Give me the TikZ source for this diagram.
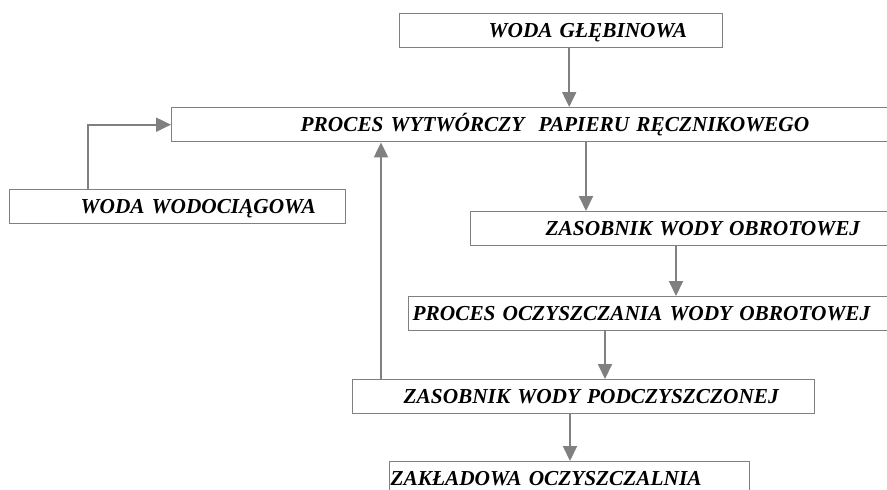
\documentclass[tikz,border=0pt]{standalone}
\usepackage{fontspec}
\setmainfont{Liberation Serif}
\usetikzlibrary{arrows.meta, positioning}
\definecolor{linegray}{RGB}{128, 128, 128}

\begin{document}
\begin{tikzpicture}[x=1pt, y=-1pt,
            box/.style={draw=linegray, line width=1.4pt, anchor=north west, inner xsep=0pt, align=left, minimum height=34pt, text height=14pt, text depth=0pt, font=\fontsize{21.3}{25}\selectfont\bfseries\itshape},
            arr/.style={draw=linegray, line width=2pt, -{Triangle[width=14pt, length=15pt]}}
        ]
            \clip (0,0) rectangle (887,490);
            \node[box, text width=323pt] (glebinowa) at (399,13) {\hspace*{89pt}WODA GŁĘBINOWA};
            \node[box, text width=740pt] (proces) at (171,107) {\hspace*{129pt}PROCES WYTWÓRCZY \ PAPIERU RĘCZNIKOWEGO};
            \node[box, text width=336pt] (wodociag) at (9,189) {\hspace*{71pt}WODA WODOCIĄGOWA};
            \node[box, text width=440pt] (zasobnik) at (470,211) {\hspace*{75pt}ZASOBNIK WODY OBROTOWEJ};
            \node[box, text width=500pt] (oczyszcz) at (408,296) {\hspace*{4pt}PROCES OCZYSZCZANIA WODY OBROTOWEJ};
            \node[box, text width=462pt] (podczysz) at (352,379) {\hspace*{51pt}ZASOBNIK WODY PODCZYSZCZONEJ};
            \node[box, text width=360pt] (zaklad) at (389,461) {\hspace*{1pt}ZAKŁADOWA OCZYSZCZALNIA};

            \draw[arr] ([xshift=8pt]glebinowa.south) -- ([xshift=8pt]glebinowa.south |- proces.north);
            \draw[arr] ([xshift=-90pt]wodociag.north) |- (proces.west);
            \draw[arr] ([xshift=116pt]zasobnik.north west |- proces.south) -- ([xshift=116pt]zasobnik.north west);
            \draw[arr] ([xshift=206pt]zasobnik.south west) -- ([xshift=206pt]zasobnik.south west |- oczyszcz.north);
            \draw[arr] ([xshift=253pt]podczysz.north west |- oczyszcz.south) -- ([xshift=253pt]podczysz.north west);
            \draw[arr] ([xshift=29pt]podczysz.north west) -- ([xshift=29pt]podczysz.north west |- proces.south);
            \draw[arr] ([xshift=181pt]zaklad.north west |- podczysz.south) -- ([xshift=181pt]zaklad.north west);
        \end{tikzpicture}
\end{document}
